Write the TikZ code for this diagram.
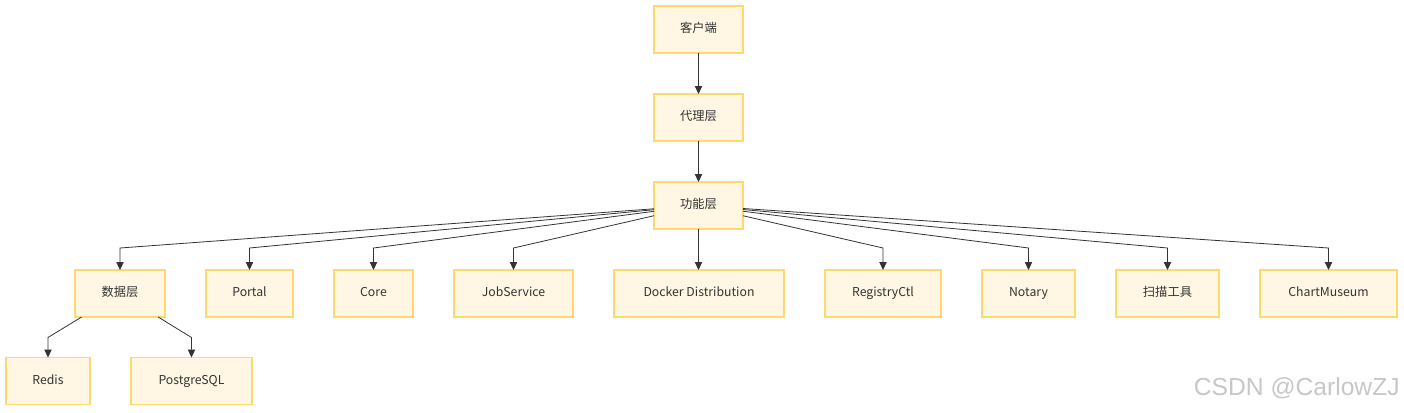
\documentclass[tikz,border=0pt]{standalone}
\usepackage{fontspec}
\setmainfont{Noto Sans CJK SC}
\newfontfamily\markfont{Liberation Sans}
\definecolor{layerFill}{RGB}{255,247,228}
\definecolor{layerLine}{RGB}{255,216,110}
\definecolor{edgeGray}{RGB}{51,51,51}
\usetikzlibrary{arrows.meta,positioning,calc}

\begin{document}
\begin{tikzpicture}[
  x=0.75pt, y=-0.75pt,
  box/.style={draw=layerLine, fill=layerFill, line width=0.9pt, outer sep=0pt,
              minimum height=35.25pt, text=edgeGray, text height=7pt,
              text depth=2pt, font=\fontsize{9.2pt}{11pt}\selectfont, align=center},
  edge/.style={-{Triangle[length=6pt,width=5.5pt]}, edgeGray, line width=0.6pt}
]
  \useasboundingbox (0,0) rectangle (1404,412);

  % top chain
  \node[box, minimum width=66.75pt] (client) at (698.5,29.5) {客户端};
  \node[box, minimum width=66.75pt, below=30.75pt of client] (proxy) {代理层};
  \node[box, minimum width=66.75pt, below=30.75pt of proxy]  (func)  {功能层};

  % function layer row
  \node[box, minimum width=67.5pt] (data) at (120,293.5) {数据层};
  \node[box, minimum width=65.25pt,  right=30.75pt of data]   (portal)   {Portal};
  \node[box, minimum width=59.25pt,  right=30.75pt of portal] (core)     {Core};
  \node[box, minimum width=89.25pt,  right=30.75pt of core]   (job)      {JobService};
  \node[box, minimum width=127.5pt,  right=30.75pt of job]    (docker)   {Docker Distribution};
  \node[box, minimum width=87pt,     right=30.75pt of docker] (regctl)   {RegistryCtl};
  \node[box, minimum width=69.75pt,  right=30.75pt of regctl] (notary)   {Notary};
  \node[box, minimum width=77.25pt,  right=30.75pt of notary] (scan)     {扫描工具};
  \node[box, minimum width=102.75pt, right=30.75pt of scan]   (chart)    {ChartMuseum};

  % data layer row
  \node[box, minimum width=63pt] (redis) at (48,381) {Redis};
  \node[box, minimum width=90.75pt, right=30.75pt of redis] (pg) {PostgreSQL};

  \draw[edge] (client) -- (proxy);
  \draw[edge] (proxy) -- (func);
  \draw[edge] (func) -- (func |- docker.north);
  \foreach \t in {data,portal,core,job,regctl,notary,scan,chart}
    \draw[edge] (func) -- ([yshift=16.5pt]\t.north) -- (\t);
  \foreach \t in {redis,pg}
    \draw[edge] (data) -- ([yshift=15pt]\t.north) -- (\t);

  \node[anchor=east, text=black!22, font=\markfont\fontsize{18.5pt}{20pt}\selectfont,
        inner sep=0pt] (mark) at (1400,388) {CSDN @CarlowZJ};
\end{tikzpicture}
\end{document}
